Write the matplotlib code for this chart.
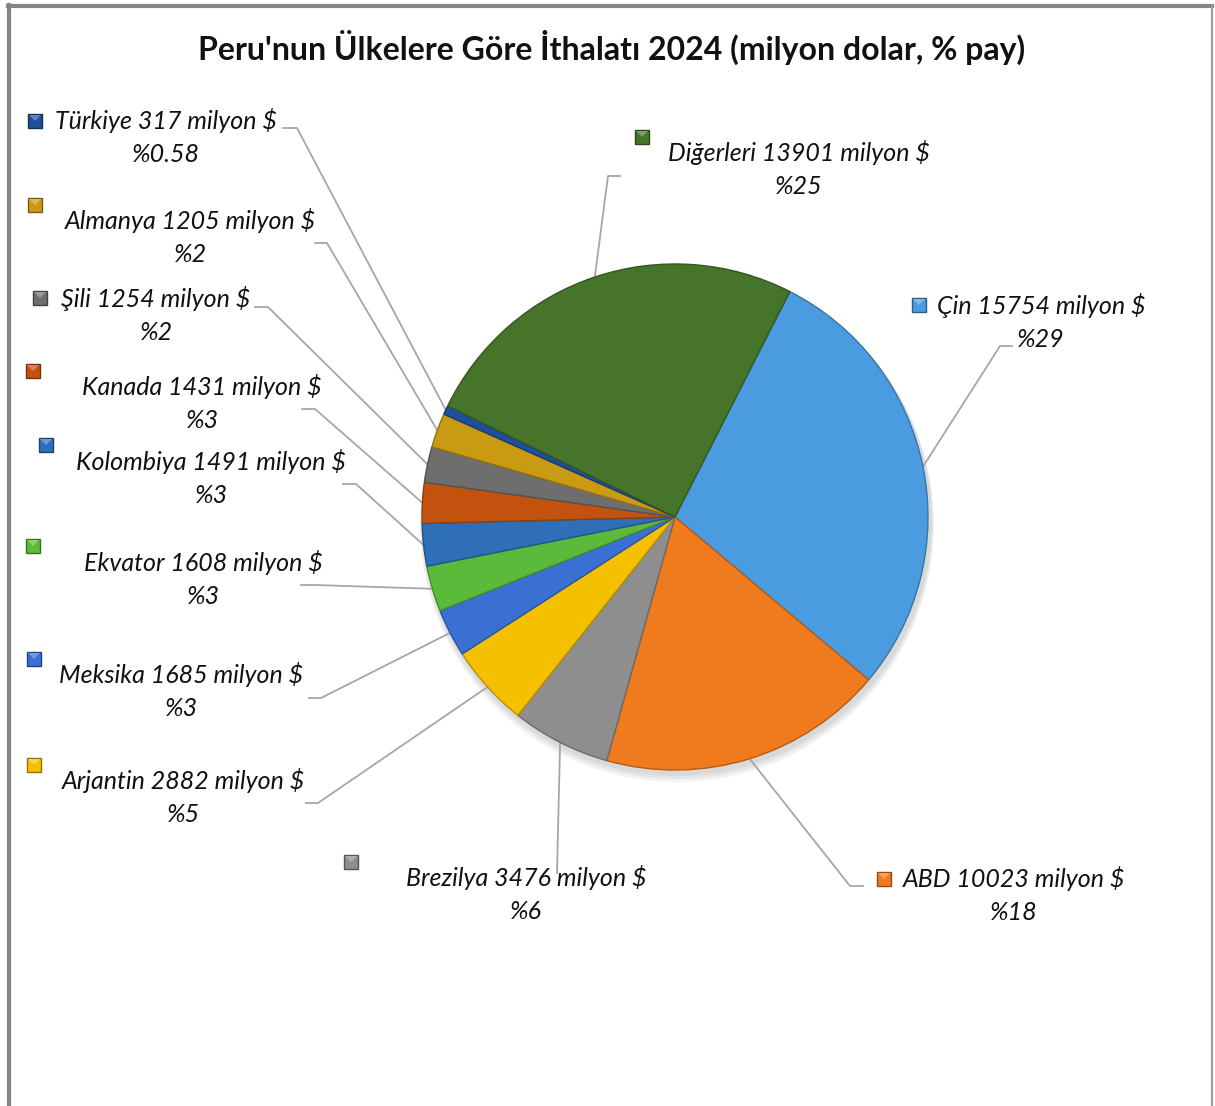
import numpy as np
import matplotlib.pyplot as plt
from matplotlib.patches import Rectangle, Circle, Polygon
from matplotlib.colors import to_rgb

plt.rcParams['font.family'] = ['Lato', 'DejaVu Sans']

W, H = 1215, 1106

countries = ['Çin', 'ABD', 'Brezilya', 'Arjantin', 'Meksika', 'Ekvator',
             'Kolombiya', 'Kanada', 'Şili', 'Almanya', 'Türkiye', 'Diğerleri']
values = [15754, 10023, 3476, 2882, 1685, 1608, 1491, 1431, 1254, 1205, 317, 13901]
colors = ['#4a9be0', '#f07a1e', '#8e8e8e', '#f5c000', '#3a6fd4', '#5cba3a',
          '#2e6fb8', '#c2520e', '#6e6e6e', '#c99a12', '#1f4e9a', '#45742a']

# layout (image pixel coords, y down)
cx, cy, R = 675, 517, 253
text_pos = [(1041, 322), (1014, 895), (526, 894), (183, 797), (181, 691), (203, 579),
            (211, 478), (202, 403), (156, 315), (190, 237), (166, 137), (799, 169)]
marker_pos = [(919, 305), (884, 879), (351, 862), (34, 765), (34, 659), (33, 546),
              (46, 445), (33, 371), (40, 298), (35, 205), (35, 121), (642, 137)]
leader_pts = [[(1012, 346), (1000, 346)], [(863, 886), (850, 886)], [(557, 873)],
              [(306, 803), (318, 803)], [(309, 698), (321, 698)], [(301, 585), (315, 585)],
              [(343, 484), (356, 484)], [(302, 409), (315, 409)], [(255, 307), (268, 307)],
              [(315, 243), (327, 243)], [(283, 128), (297, 128)], [(620, 176), (608, 176)]]


def Y(y):
    return H - y


def shade(c, f=0.7):
    r, g, b = to_rgb(c)
    if f <= 1:
        return (r * f, g * f, b * f)
    return (r + (1 - r) * (f - 1), g + (1 - g) * (f - 1), b + (1 - b) * (f - 1))


fig = plt.figure(figsize=(W / 100, H / 100), dpi=100)
ax = fig.add_axes([0, 0, 1, 1])

# soft shadow under the pie
for i in range(3):
    ax.add_patch(Circle((cx + 2, Y(cy) - 4 - i * 2), R + 2 + i, color='k', alpha=0.05, lw=0, zorder=0))

start = 63
wedges, _ = ax.pie(values, colors=colors, startangle=start, counterclock=False,
                   center=(cx, Y(cy)), radius=R,
                   wedgeprops=dict(linewidth=1.0))
for w, c in zip(wedges, colors):
    w.set_edgecolor(shade(c, 0.75))
    w.set_zorder(2)

total = sum(values)
cum = 0
for i, (name, v) in enumerate(zip(countries, values)):
    pct = v / total * 100
    mid = start - (cum + v / 2) / total * 360
    cum += v
    ex = cx + R * np.cos(np.radians(mid))
    ey = Y(cy) + R * np.sin(np.radians(mid))
    pts = [(ex, ey)] + [(x, Y(y)) for x, y in reversed(leader_pts[i])]
    ax.plot([p[0] for p in pts], [p[1] for p in pts], color='#a6a6a6', lw=1.3, zorder=1)

    ptxt = f'%{pct:.2f}' if pct < 1 else f'%{pct:.0f}'
    tx, ty = text_pos[i]
    ax.text(tx, Y(ty), f'{name} {v} milyon $\n{ptxt}', ha='center', va='center',
            multialignment='center', fontsize=18, style='italic', linespacing=1.5,
            color='#111111', zorder=3)

    # bevelled legend key
    mx, my = marker_pos[i]
    ax.add_patch(Rectangle((mx - 7, Y(my) - 7), 14, 14, facecolor=colors[i],
                           edgecolor=shade(colors[i], 0.6), lw=1, zorder=3))
    ax.add_patch(Polygon([(mx - 6, Y(my) + 6), (mx + 6, Y(my) + 6), (mx, Y(my))],
                         closed=True, facecolor=shade(colors[i], 1.3), lw=0, zorder=3))

ax.text(612, Y(47), "Peru'nun Ülkelere Göre İthalatı 2024 (milyon dolar, % pay)",
        ha='center', va='center', fontsize=23, fontweight='bold', color='#111111')

# chart frame
ax.plot([9, 9], [Y(5), 0], color='#858585', lw=3, zorder=4)
ax.plot([8, 1212], [Y(6), Y(6)], color='#858585', lw=3, zorder=4)
ax.plot([1212, 1212], [Y(5), 0], color='#9a9a9a', lw=1.5, zorder=4)

ax.set_xlim(0, W)
ax.set_ylim(0, H)
ax.set_aspect('auto')
ax.axis('off')

fig.savefig('out.png', dpi=100)
